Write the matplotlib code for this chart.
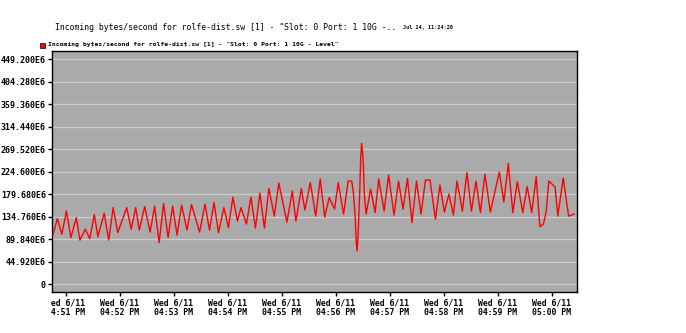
import matplotlib
matplotlib.use("Agg")
import matplotlib.pyplot as plt
from matplotlib.patches import Rectangle

# seconds after 04:50:45 PM, incoming bytes/second in units of 1E6
seconds = [
    1, 6, 11, 16, 21, 27, 31, 37, 42, 47, 51, 58, 63, 68, 73, 83, 88, 93, 97,
    103, 109, 114, 119, 124, 129, 134, 139, 144, 150, 155, 164, 170, 175, 180, 185, 191, 196,
    201, 206, 210, 216, 221, 226, 231, 236, 241, 247, 252, 261, 267, 271, 277, 281, 287, 293,
    298, 303, 308, 314, 318, 324, 329, 333, 335, 337, 338, 339, 340, 342, 343, 344, 345, 346,
    347, 349, 354, 359, 363, 369, 374, 380, 385, 390,
    395, 400, 405, 410, 415, 420, 426, 431, 436, 441, 446, 450, 456, 461, 466, 471, 476, 481, 487,
    497, 502, 507, 512, 517, 523, 528, 533, 538, 542, 546, 549, 552, 559, 562, 568, 574, 580,
]
values_e6 = [
    98, 131, 100, 146, 93, 133, 88, 110, 91, 139, 95, 142, 88, 153, 103, 153, 110, 153, 108,
    155, 104, 156, 83, 161, 93, 156, 98, 158, 108, 159, 104, 160, 108, 163, 103, 153, 113,
    174, 126, 153, 120, 174, 112, 182, 112, 191, 136, 202, 124, 186, 126, 191, 148, 203, 136,
    210, 134, 173, 150, 203, 140, 206, 206, 180, 130, 84, 66, 94, 190, 253, 281, 263, 236,
    180, 140, 190, 143, 210, 146, 218, 138, 206, 150,
    211, 123, 206, 140, 208, 208, 130, 198, 144, 180, 138, 206, 146, 223, 146, 206, 143, 220, 144,
    224, 164, 241, 143, 205, 143, 195, 143, 215, 115, 120, 144, 206, 194, 136, 212, 136, 140,
]

ytick_values = [0, 44.92, 89.84, 134.76, 179.68, 224.6, 269.52, 314.44, 359.36, 404.28, 449.2]
ytick_labels = ["0", "44.920E6", "89.840E6", "134.760E6", "179.680E6", "224.600E6",
                "269.520E6", "314.440E6", "359.360E6", "404.280E6", "449.200E6"]
xtick_seconds = [15, 75, 135, 195, 255, 315, 375, 435, 495, 555]
xtick_labels = ["Wed 6/11\n04:51 PM", "Wed 6/11\n04:52 PM", "Wed 6/11\n04:53 PM",
                "Wed 6/11\n04:54 PM", "Wed 6/11\n04:55 PM", "Wed 6/11\n04:56 PM",
                "Wed 6/11\n04:57 PM", "Wed 6/11\n04:58 PM", "Wed 6/11\n04:59 PM",
                "Wed 6/11\n05:00 PM"]

title = 'Incoming bytes/second for rolfe-dist.sw [1] - "Slot: 0 Port: 1 10G -..'
stamp = "Jul 14, 11:24:20"
legend_label = 'Incoming bytes/second for rolfe-dist.sw [1] - "Slot: 0 Port: 1 10G - Level"'

W, H = 686, 333
mono = "DejaVu Sans Mono"

fig = plt.figure(figsize=(W / 100, H / 100), dpi=100)
fig.patch.set_facecolor("white")
ax = fig.add_axes([52 / W, (H - 292) / H, 525 / W, 241 / H])
ax.set_facecolor("#aaaaaa")

ax.plot(seconds, values_e6, color="#ff0000", linewidth=1.0, zorder=3)

ax.set_xlim(0, 583.3)
ax.set_ylim(-15.5, 465.5)
ax.set_yticks(ytick_values)
ax.set_yticklabels(ytick_labels, fontfamily=mono, fontsize=6, fontweight="bold")
ax.set_xticks(xtick_seconds)
ax.set_xticklabels(xtick_labels, fontfamily=mono, fontsize=5.9, fontweight="bold",
                   linespacing=1.05)
ax.tick_params(axis="both", direction="out", length=3, width=1, color="black", pad=1.5)
ax.grid(axis="y", color="#cccccc", linewidth=1.0)
ax.set_axisbelow(True)
for sp in ax.spines.values():
    sp.set_color("black")
    sp.set_linewidth(1.0)

# tick labels are cut at the left edge of the plot in the original
fig.add_artist(Rectangle((0, 0), 51.5 / W, (H - 293) / H, transform=fig.transFigure,
                         facecolor="white", edgecolor="none", zorder=10))

fig.text(55 / W, 1 - 27 / H, title, fontfamily=mono, fontsize=5.85, ha="left", va="center")
fig.text(403 / W, 1 - 28 / H, stamp, fontfamily=mono, fontsize=3.7, fontweight="bold",
         ha="left", va="center")
fig.add_artist(Rectangle((40 / W, 1 - 48 / H), 5 / W, 5 / H, transform=fig.transFigure,
                         facecolor="#ff0000", edgecolor="black", linewidth=0.5))
fig.text(48 / W, 1 - 44.5 / H, legend_label, fontfamily=mono, fontsize=4.6,
         fontweight="bold", ha="left", va="center")

fig.savefig("out.png", dpi=100)
